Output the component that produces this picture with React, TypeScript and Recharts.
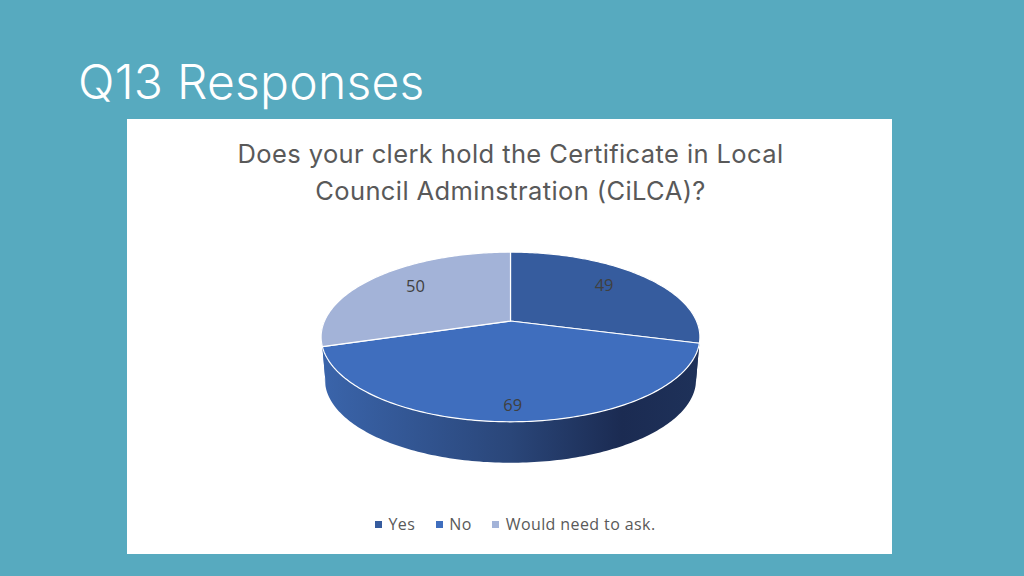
import React from "react";
import { PieChart, Pie, Legend } from "recharts";

const categories = ["Yes", "No", "Would need to ask."];
const responses = [49, 69, 50];
const sliceColors = ["#365C9E", "#3F6EBE", "#A3B3D8"];
const data = categories.map((name, i) => ({ name, value: responses[i], fill: sliceColors[i] }));

const titleLines = ["Does your clerk hold the Certificate in Local", "Council Adminstration (CiLCA)?"];

const TILT = 0.188;
const FLAT = 0.44;
const DEPTH_Y = 43;
const DEPTH_SCALE = 0.98;

type Pt = [number, number];
const project = (cx: number, cy: number, R: number, deg: number, lower = false): Pt => {
  const t = (deg * Math.PI) / 180;
  const u = Math.sin(t);
  const v = Math.cos(t);
  const d = 1 + TILT * v;
  const s = lower ? DEPTH_SCALE : 1;
  return [cx + (R * s * u) / d, cy + (lower ? DEPTH_Y : 0) - (R * s * FLAT * v) / d];
};

const arcPoints = (cx: number, cy: number, R: number, a: number, b: number, lower = false): Pt[] => {
  const n = Math.max(2, Math.ceil(Math.abs(b - a)));
  const pts: Pt[] = [];
  for (let i = 0; i <= n; i++) pts.push(project(cx, cy, R, a + ((b - a) * i) / n, lower));
  return pts;
};
const toPath = (pts: Pt[]) => pts.map((p, i) => `${i ? "L" : "M"}${p[0].toFixed(2)} ${p[1].toFixed(2)}`).join(" ");

const renderWall = (props: any) => {
  const { cx, cy, outerRadius, startAngle, endAngle } = props;
  const wa = Math.max(90 - startAngle, 90);
  const wb = Math.min(90 - endAngle, 270);
  if (wb <= wa) return <g />;
  const gid = `wall-${Math.round(wa)}`;
  return (
    <g>
      <defs>
        <linearGradient id={gid} gradientUnits="userSpaceOnUse" x1={cx - outerRadius} x2={cx + outerRadius} y1={0} y2={0}>
          <stop offset="0" stopColor="#3A64AA" />
          <stop offset="0.5" stopColor="#2A4679" />
          <stop offset="0.8" stopColor="#1B2B52" />
          <stop offset="1" stopColor="#1E3159" />
        </linearGradient>
      </defs>
      <path
        d={`${toPath(arcPoints(cx, cy, outerRadius, wa, wb))} ${toPath(arcPoints(cx, cy, outerRadius, wb, wa, true)).replace("M", "L")} Z`}
        fill={`url(#${gid})`}
        stroke="none"
      />
    </g>
  );
};

const renderTop = (props: any) => {
  const { cx, cy, outerRadius, startAngle, endAngle, fill } = props;
  return (
    <path
      d={`M${cx} ${cy} ${toPath(arcPoints(cx, cy, outerRadius, 90 - startAngle, 90 - endAngle)).replace("M", "L")} Z`}
      fill={fill}
      stroke="#FFFFFF"
      strokeWidth={1.2}
      strokeLinejoin="round"
    />
  );
};

const renderLabel = (props: any) => {
  const { cx, cy, midAngle, value } = props;
  const t = ((90 - midAngle) * Math.PI) / 180;
  const u = Math.sin(t);
  const v = Math.cos(t);
  return (
    <text
      x={cx + 118 * u}
      y={cy - (67 * v) / (1 + 0.2 * v)}
      textAnchor="middle"
      dominantBaseline="central"
      fontFamily="'Open Sans', sans-serif"
      fontSize={16.5}
      fill="#404040"
    >
      {value}
    </text>
  );
};

const renderLegend = ({ payload }: any) => {
  const items = (payload || []).filter((e: any, i: number, all: any[]) => all.findIndex((o) => o.value === e.value) === i);
  return (
    <div style={{ display: "flex", alignItems: "center", fontFamily: "'Open Sans', sans-serif", fontSize: 16, letterSpacing: 0.4, color: "#595959", whiteSpace: "nowrap" }}>
      {items.map((e: any) => (
        <span key={e.value} style={{ display: "inline-flex", alignItems: "center", marginRight: 20.5 }}>
          <span style={{ width: 7, height: 7, background: e.color, marginRight: 6.5, display: "inline-block" }} />
          {e.value}
        </span>
      ))}
    </div>
  );
};

export default function App() {
  return (
    <div style={{ position: "fixed", left: 0, top: 0, width: 1024, height: 576, background: "#57AABF", overflow: "hidden" }}>
      <div style={{ position: "absolute", left: 78, top: 52, fontFamily: "Inter, sans-serif", fontSize: 48, letterSpacing: 0.25, fontWeight: 300, color: "#FFFFFF", lineHeight: "60px", whiteSpace: "nowrap" }}>
        Q13 Responses
      </div>
      <div style={{ position: "absolute", left: 127, top: 119, width: 765, height: 435, background: "#FFFFFF" }} />
      {titleLines.map((line, i) => (
        <div
          key={line}
          style={{ position: "absolute", left: 127, width: 767, top: 135 + i * 37, textAlign: "center", fontFamily: "Inter, sans-serif", fontSize: 25.5, letterSpacing: 0.4, color: "#595959", lineHeight: "37px", whiteSpace: "nowrap" }}
        >
          {line}
        </div>
      ))}
      <div style={{ position: "absolute", left: 0, top: 0 }}>
        <PieChart width={1024} height={576} margin={{ top: 0, right: 0, bottom: 0, left: 0 }}>
          <Pie
            data={data}
            dataKey="value"
            nameKey="name"
            cx={510.5}
            cy={321}
            outerRadius={186}
            startAngle={90}
            endAngle={-270}
            legendType="none"
            isAnimationActive={false}
            shape={renderWall}
          />
          <Pie
            data={data}
            dataKey="value"
            nameKey="name"
            cx={510.5}
            cy={321}
            outerRadius={186}
            startAngle={90}
            endAngle={-270}
            stroke="#FFFFFF"
            isAnimationActive={false}
            labelLine={false}
            label={renderLabel}
            shape={renderTop}
          />
          <Legend content={renderLegend} itemSorter={null} wrapperStyle={{ position: "absolute", left: 375, top: 513, width: 320, bottom: "auto" }} />
        </PieChart>
      </div>
    </div>
  );
}
